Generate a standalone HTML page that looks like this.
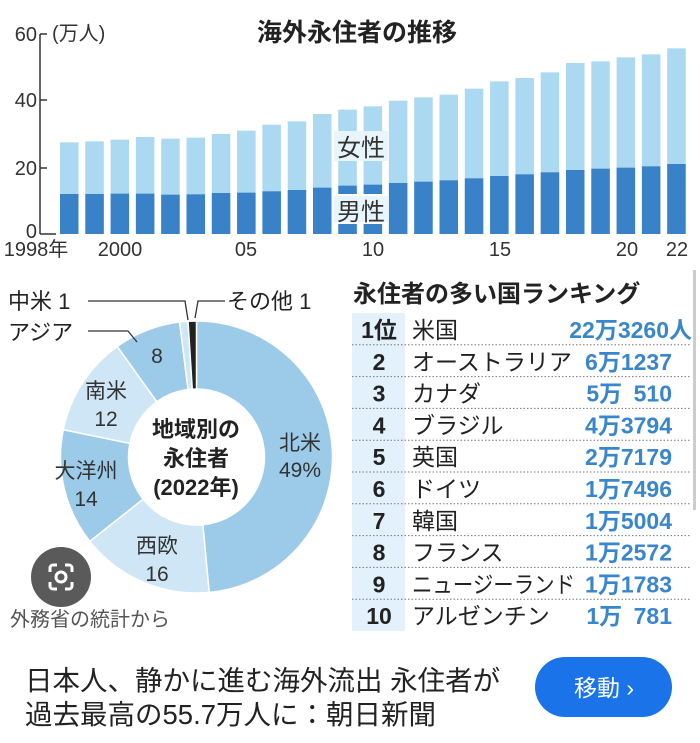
<!DOCTYPE html>
<html><head><meta charset="utf-8"><style>
html,body{margin:0;padding:0;background:#fff;}
body{width:700px;height:738px;overflow:hidden;position:relative;font-family:"Liberation Sans","Noto Sans CJK JP",sans-serif;}
svg text{font-family:"Liberation Sans","Noto Sans CJK JP",sans-serif;}
</style></head><body>
<svg id="s" width="700" height="738" viewBox="0 0 700 738" xmlns="http://www.w3.org/2000/svg">
<g id="bars"></g>
<line x1="40" y1="34" x2="40" y2="234" stroke="#333" stroke-width="1.5"/>
<line x1="40" y1="34" x2="47" y2="34" stroke="#333" stroke-width="1.5"/>
<line x1="40" y1="100" x2="47" y2="100" stroke="#333" stroke-width="1.5"/>
<line x1="40" y1="168" x2="47" y2="168" stroke="#333" stroke-width="1.5"/>
<line x1="40" y1="234" x2="56" y2="234" stroke="#333" stroke-width="1.5"/>
<g font-size="20" fill="#333" text-anchor="end">
<text x="37" y="41">60</text><text x="37" y="107">40</text><text x="37" y="175">20</text><text x="37" y="238">0</text>
</g>
<text x="52" y="40" font-size="20" fill="#333">(万人)</text>
<text x="357" y="41" font-size="25" font-weight="bold" fill="#222" text-anchor="middle">海外永住者の推移</text>
<g font-size="20" fill="#333" text-anchor="middle">
<text x="36" y="256">1998年</text><text x="120" y="256">2000</text><text x="246" y="256">05</text><text x="373" y="256">10</text><text x="500" y="256">15</text><text x="627" y="256">20</text><text x="677" y="256">22</text>
</g>
<rect x="334" y="131" width="54" height="30" fill="#e8f5fc"/>
<text x="361" y="156" font-size="24" fill="#333" text-anchor="middle">女性</text>
<text x="361" y="220" font-size="24" fill="#333" text-anchor="middle">男性</text>

<g id="pie"></g>
<g stroke="#333" stroke-width="1.3" fill="none">
<polyline points="88,301 185,301 188,320"/>
<polyline points="88,331 128,331 137,342"/>
<polyline points="225,301 198,301 195,318"/>
</g>
<g font-size="22" fill="#222">
<text x="8" y="309">中米 1</text>
<text x="8" y="340">アジア</text>
<text x="227" y="309">その他 1</text>
</g>
<g font-size="21" fill="#333" text-anchor="middle">
<text x="157" y="363">8</text>
<text x="106" y="398">南米</text><text x="106" y="426">12</text>
<text x="86" y="478">大洋州</text><text x="86" y="506">14</text>
<text x="157" y="553">西欧</text><text x="157" y="581">16</text>
<text x="300" y="450">北米</text><text x="300" y="477">49%</text>
</g>
<g font-size="22" font-weight="bold" fill="#222" text-anchor="middle">
<text x="196" y="437">地域別の</text><text x="196" y="466">永住者</text><text x="196" y="495">(2022年)</text>
</g>
<circle cx="61" cy="577" r="30" fill="#5a5a5a"/>
<path d="M50 572v-4a3 3 0 0 1 3-3h4M65 565h4a3 3 0 0 1 3 3v4M72 582v4a3 3 0 0 1-3 3h-4M57 589h-4a3 3 0 0 1-3-3v-4" fill="none" stroke="#fff" stroke-width="3"/>
<circle cx="61" cy="577" r="5" fill="none" stroke="#fff" stroke-width="3"/>
<text x="10" y="626" font-size="20" fill="#555">外務省の統計から</text>

<text x="353" y="302" font-size="24" font-weight="bold" fill="#222">永住者の多い国ランキング</text>
<rect x="352" y="313" width="53" height="318" fill="#e2f1fb"/>
<g id="tbl"></g>
<rect x="693" y="270" width="3" height="240" fill="#ccc"/>

<text x="25" y="690" font-size="27.5" fill="#222">日本人、静かに進む海外流出 永住者が</text>
<text x="25" y="724" font-size="27.5" fill="#222">過去最高の55.7万人に：朝日新聞</text>
<rect x="535" y="657" width="137" height="60" rx="30" fill="#1a73e8"/>
<text x="604" y="696" font-size="23" fill="#fff" text-anchor="middle">移動 ›</text>
</svg>
<script>
var NS="http://www.w3.org/2000/svg";
function el(t,a,p){var e=document.createElementNS(NS,t);for(var k in a)e.setAttribute(k,a[k]);p.appendChild(e);return e;}
var tot=[27.5,27.8,28.3,29.1,28.6,28.9,30.0,31.0,32.8,33.8,36.0,37.3,38.3,40.0,41.0,41.8,43.6,45.8,46.8,48.5,51.3,51.8,53.0,53.9,55.7];
var mal=[12,12,12.1,12.1,11.8,11.9,12.3,12.4,12.8,13.2,13.9,14.5,14.8,15.3,15.7,16.1,16.7,17.4,17.9,18.5,19.2,19.6,19.9,20.3,21];
var g=document.getElementById('bars'),k=200/60;
for(var i=0;i<25;i++){var x=60+i*25.3;
el('rect',{x:x,y:234-tot[i]*k,width:18.5,height:tot[i]*k,fill:'#abd9f2'},g);
el('rect',{x:x,y:234-mal[i]*k,width:18.5,height:mal[i]*k,fill:'#3a82c8'},g);}
el('rect',{x:334,y:194,width:54,height:30,fill:'#fff'},g);
el('rect',{x:334,y:196,width:54,height:26,fill:'#e8f5fc'},g);
var cx=196.5,cy=457,R=136,r=68,p=document.getElementById('pie');
var seg=[[49,'#9ccbe9'],[16,'#cfe6f7'],[14,'#9ccbe9'],[12,'#cfe6f7'],[8,'#9ccbe9'],[1,'#cfe6f7'],[1,'#222']];
var a=0;
function pt(rad,deg){var t=(deg-90)*Math.PI/180;return (cx+rad*Math.cos(t)).toFixed(2)+','+(cy+rad*Math.sin(t)).toFixed(2);}
seg.forEach(function(s){var b=a+s[0]*3.6*100/101;var la=(b-a)>180?1:0;
el('path',{d:'M'+pt(R,a)+' A'+R+','+R+' 0 '+la+' 1 '+pt(R,b)+' L'+pt(r,b)+' A'+r+','+r+' 0 '+la+' 0 '+pt(r,a)+'Z',fill:s[1],stroke:'#fff','stroke-width':1.5},p);a=b;});
var rows=[['1位','米国','22万3260人'],['2','オーストラリア','6万1237'],['3','カナダ','5万\u2002510'],['4','ブラジル','4万3794'],['5','英国','2万7179'],['6','ドイツ','1万7496'],['7','韓国','1万5004'],['8','フランス','1万2572'],['9','ニュージーランド','1万1783'],['10','アルゼンチン','1万\u2002781']];
var tb=document.getElementById('tbl');
rows.forEach(function(rw,i){var y=313+i*31.8;
var t=el('text',{x:379,y:y+25,'font-size':23,'font-weight':'bold',fill:'#222','text-anchor':'middle'},tb);t.textContent=rw[0];
t=el('text',{x:412,y:y+25,'font-size':23,fill:'#222'},tb);
if(rw[1].length>=8){t.setAttribute('textLength',163);t.setAttribute('lengthAdjust','spacingAndGlyphs');}
t.textContent=rw[1];
t=el('text',{x:i==0?692:672,y:y+25,'font-size':23,'font-weight':'bold',fill:'#3a86cc','text-anchor':'end'},tb);t.textContent=rw[2];
if(i<9)el('line',{x1:352,y1:y+31.8,x2:690,y2:y+31.8,stroke:'#777','stroke-width':1,'stroke-dasharray':'1.5,2'},tb);});
</script>
</body></html>
